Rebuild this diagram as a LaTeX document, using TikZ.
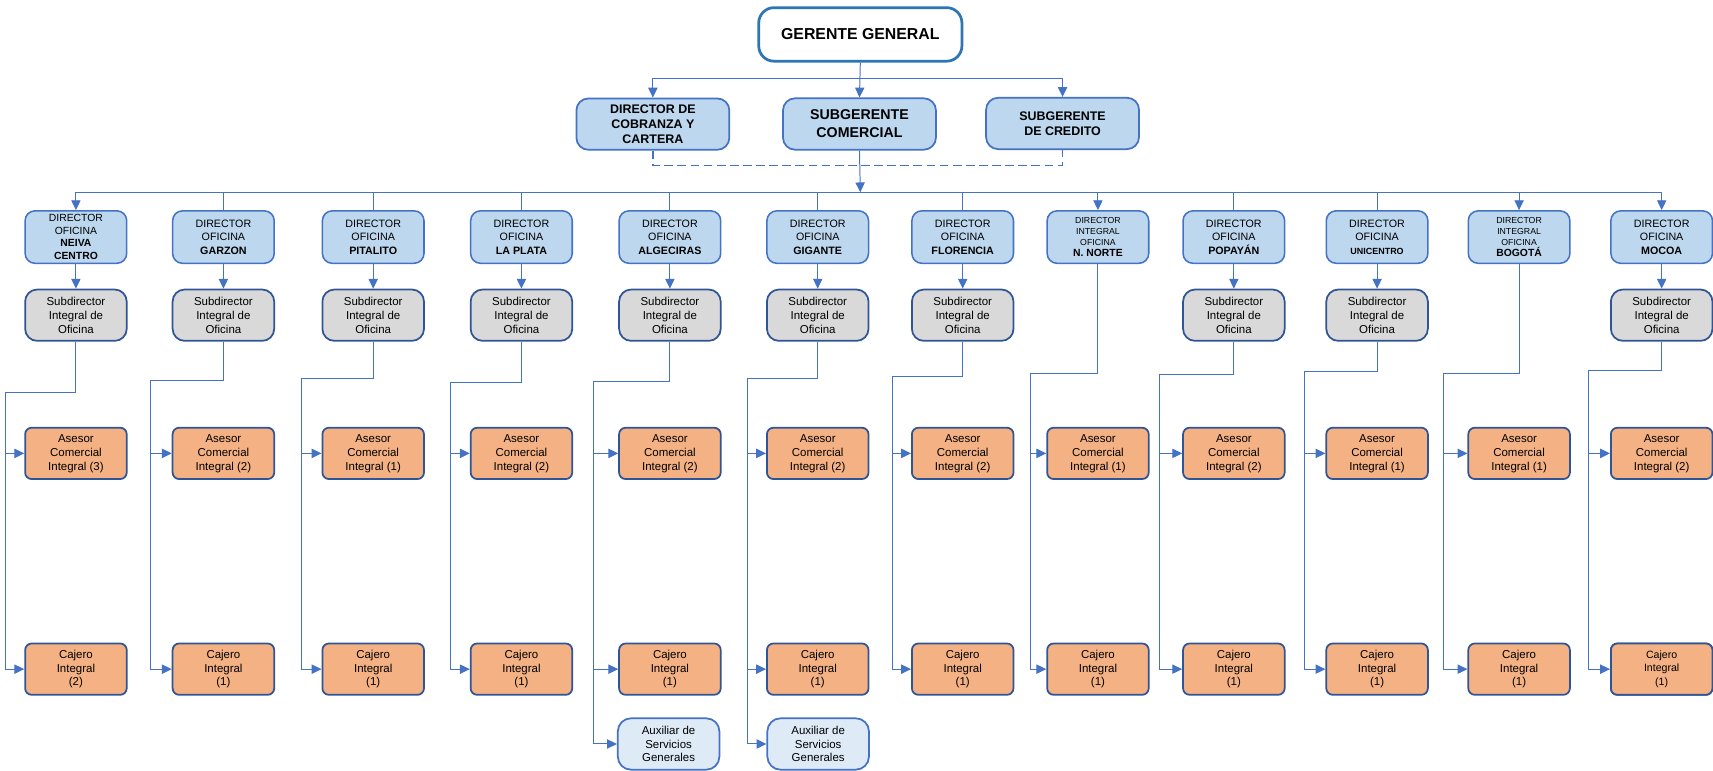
\documentclass[tikz,border=0pt]{standalone}
\usepackage{fontspec}
\setmainfont{Liberation Sans}
\usetikzlibrary{arrows.meta}

\definecolor{linkblue}{HTML}{4472C4}
\definecolor{edgeblue}{HTML}{2F5597}
\definecolor{ggblue}{HTML}{2E75B6}
\definecolor{dirfill}{HTML}{BDD7EE}
\definecolor{subfill}{HTML}{D9D9D9}
\definecolor{stafffill}{HTML}{F4B183}
\definecolor{auxfill}{HTML}{DEEBF7}

\begin{document}
\begin{tikzpicture}[
    x=1pt, y=-1pt,
    link/.style={draw=linkblue, line width=0.9pt},
    tip/.style={-{Triangle[length=9pt, width=8.5pt]}},
    tips/.style={{Triangle[length=9pt, width=8.5pt]}-{Triangle[length=9pt, width=8.5pt]}},
    gg_box/.style={draw=ggblue, line width=2.5pt, fill=white, rounded corners=14pt,
                   minimum width=186pt, minimum height=49pt, inner sep=0pt,
                   font=\fontsize{14.5}{17}\selectfont\bfseries},
    head_box/.style={draw=linkblue, line width=1.6pt, fill=dirfill, rounded corners=11pt,
                     minimum width=140pt, minimum height=47pt, align=center, inner sep=0pt,
                     font=\fontsize{11.4}{13.6}\selectfont\bfseries},
    dir_box/.style={draw=linkblue, line width=1.4pt, fill=dirfill, rounded corners=9pt,
                    minimum width=93pt, minimum height=48pt, align=center, inner sep=0pt,
                    font=\fontsize{9.8}{12.2}\selectfont},
    small_dir/.style={dir_box, font=\fontsize{8}{10.3}\selectfont},
    sub_box/.style={draw=edgeblue, line width=1.6pt, fill=subfill, rounded corners=11pt,
                    minimum width=93pt, minimum height=47pt, align=center, inner sep=0pt,
                    font=\fontsize{10.5}{12.7}\selectfont},
    staff_box/.style={sub_box, fill=stafffill, rounded corners=6pt},
    aux_box/.style={sub_box, draw=linkblue, fill=auxfill, rounded corners=12pt}
]
\useasboundingbox (0,0) rectangle (1568,705);

% Top management
\node[gg_box] (gg) at (787.5, 31.5) {GERENTE GENERAL};
\node[head_box] (cob) at (597.6, 113.6) {DIRECTOR DE\\COBRANZA Y\\CARTERA};
\node[head_box, font=\fontsize{13}{16.5}\selectfont\bfseries] (subcom) at (786.7, 113.5) {SUBGERENTE\\COMERCIAL};
\node[head_box] (cred) at (972.6, 113) {SUBGERENTE\\DE CREDITO};

\coordinate (top) at (787.5, 71.6);
\coordinate (hub) at (787.5, 176);

\draw[link, tip] (gg.south) -- (subcom.north);
\draw[link, tips] (cob.north) |- (top) -| (cred.north);
\draw[link, line width=1.3pt, dash pattern=on 8pt off 4pt] (cob.south) -- ++(0, 13.5) -| (cred.south);
\draw[link, tip] (subcom.south) -- (hub);

% Office directors
\node[dir_box, font=\fontsize{9.5}{11.6}\selectfont] (dir1) at (69.5, 217) {DIRECTOR\\OFICINA\\\textbf{NEIVA}\\\textbf{CENTRO}};
\node[dir_box] (dir2) at (204.5, 217) {DIRECTOR\\OFICINA\\\textbf{GARZON}};
\node[dir_box] (dir3) at (341.6, 217) {DIRECTOR\\OFICINA\\\textbf{PITALITO}};
\node[dir_box] (dir4) at (477.3, 217) {DIRECTOR\\OFICINA\\\textbf{LA PLATA}};
\node[dir_box] (dir5) at (613.2, 217) {DIRECTOR\\OFICINA\\\textbf{ALGECIRAS}};
\node[dir_box] (dir6) at (748.5, 217) {DIRECTOR\\OFICINA\\\textbf{GIGANTE}};
\node[dir_box] (dir7) at (881.2, 217) {DIRECTOR\\OFICINA\\\textbf{FLORENCIA}};
\node[small_dir] (dir8) at (1005, 217) {DIRECTOR\\INTEGRAL\\OFICINA\\{\fontsize{9.5}{10.3}\selectfont\bfseries N. NORTE}};
\node[dir_box] (dir9) at (1129.4, 217) {DIRECTOR\\OFICINA\\\textbf{POPAYÁN}};
\node[dir_box] (dir10) at (1260.5, 217) {DIRECTOR\\OFICINA\\{\fontsize{8.2}{12.2}\selectfont\bfseries UNICENTRO}};
\node[small_dir] (dir11) at (1390.5, 217) {DIRECTOR\\INTEGRAL\\OFICINA\\{\fontsize{9.5}{10.3}\selectfont\bfseries BOGOTÁ}};
\node[dir_box] (dir12) at (1521, 217) {DIRECTOR\\OFICINA\\\textbf{MOCOA}};

\draw[link, tips] (dir1.north) |- (hub) -| (dir12.north);
\foreach \i in {2,3,4,5,6,7,9,10}
    \draw[link] (dir\i.north |- hub) -- (dir\i.north);
\foreach \i in {8,11}
    \draw[link, tip] (dir\i.north |- hub) -- (dir\i.north);

% Deputy directors
\foreach \i/\x in {1/69.5, 2/204.5, 3/341.6, 4/477.3, 5/613.2, 6/748.5, 7/881.2, 9/1129.4, 10/1260.5, 12/1521} {
    \node[sub_box] (sub\i) at (\x, 288.5) {Subdirector\\Integral de\\Oficina};
    \draw[link, tip] (dir\i.south) -- (sub\i.north);
}

% Advisers and cashiers
\foreach \i/\x/\a/\c in {1/69.5/3/2, 2/204.5/2/1, 3/341.6/1/1, 4/477.3/2/1, 5/613.2/2/1, 6/748.5/2/1,
                         7/881.2/2/1, 8/1005/1/1, 9/1129.4/2/1, 10/1260.5/1/1, 11/1390.5/1/1, 12/1521/2/1} {
    \node[staff_box] (ase\i) at (\x, 415) {Asesor\\Comercial\\Integral (\a)};
    \node[staff_box] (caj\i) at (\x, 612.5) {Cajero\\Integral\\(\c)};
}
\node[staff_box, font=\fontsize{9.7}{12}\selectfont] at (caj12) {Cajero\\Integral\\(1)};

\node[aux_box] (aux5) at (612, 681) {Auxiliar de\\Servicios\\Generales};
\node[aux_box] (aux6) at (748.9, 681) {Auxiliar de\\Servicios\\Generales};

% Office buses
\foreach \i/\src/\bx/\by in {1/sub1/5.3/359, 2/sub2/137.6/348, 3/sub3/275.6/346, 4/sub4/412.5/350,
                             5/sub5/543.7/349, 6/sub6/684.4/346, 7/sub7/816.8/345, 8/dir8/942.8/342,
                             9/sub9/1061.2/342.6, 10/sub10/1193.9/340, 11/dir11/1320.9/341.7, 12/sub12/1454/338.7} {
    \coordinate (elb\i) at (\bx, \by);
    \draw[link] (\src.south) |- (elb\i);
    \draw[link, tip] (elb\i) |- (ase\i.west);
    \draw[link, tip] (elb\i) |- (caj\i.west);
}
\draw[link, tip] (elb5) |- (aux5.west);
\draw[link, tip] (elb6) |- (aux6.west);

\end{tikzpicture}
\end{document}
